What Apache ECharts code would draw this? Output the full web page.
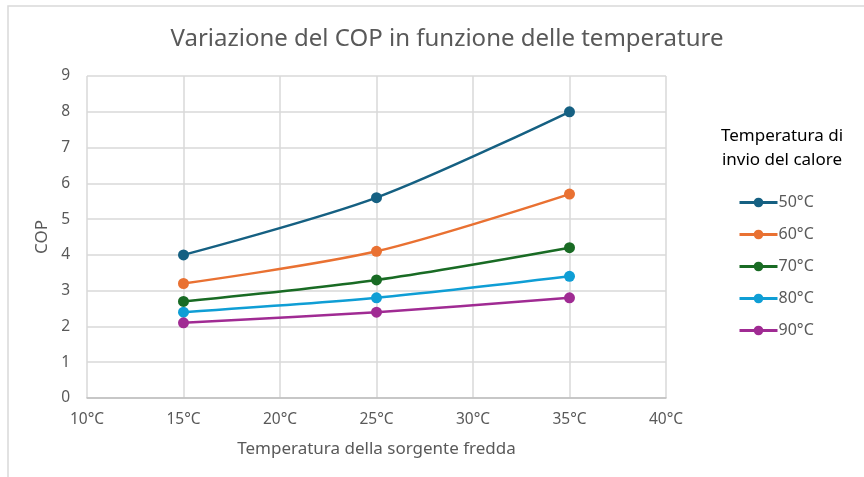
<!DOCTYPE html>
<html lang="it">
<head>
    <meta charset="UTF-8">
    <title>COP</title>
    <script src="https://cdn.jsdelivr.net/npm/echarts@6/dist/echarts.min.js"></script>
    <style>
        body { margin: 0; background: #fff; }
        #main { width: 864px; height: 477px; }
    </style>
</head>
<body>
    <div id="main"></div>
    <script>
        // dati
        var tempFredda = [15, 25, 35];
        var serieNomi = ['50°C', '60°C', '70°C', '80°C', '90°C'];
        var cop50 = [4.0, 5.6, 8.0];
        var cop60 = [3.2, 4.1, 5.7];
        var cop70 = [2.7, 3.3, 4.2];
        var cop80 = [2.4, 2.8, 3.4];
        var cop90 = [2.1, 2.4, 2.8];
        var valori = [cop50, cop60, cop70, cop80, cop90];
        var colori = ['#156082', '#E97132', '#196B24', '#0F9ED5', '#A02B93'];

        var font = 'Noto Sans';
        var grigio = '#595959';

        var myChart = echarts.init(document.getElementById('main'));

        var series = [];
        for (var i = 0; i < serieNomi.length; i++) {
            var punti = [];
            for (var j = 0; j < tempFredda.length; j++) {
                punti.push([tempFredda[j], valori[i][j]]);
            }
            series.push({
                name: serieNomi[i],
                type: 'line',
                smooth: 0.3,
                symbol: 'circle',
                symbolSize: 11,
                lineStyle: { width: 2.5, color: colori[i] },
                itemStyle: { color: colori[i] },
                data: punti
            });
        }

        var option = {
            animation: false,
            textStyle: { fontFamily: font },
            graphic: [{
                type: 'rect',
                shape: { x: 8, y: 6, width: 900, height: 500 },
                style: { fill: 'none', stroke: '#d9d9d9', lineWidth: 1.5 },
                silent: true
            }],
            title: [{
                text: 'Variazione del COP in funzione delle temperature',
                left: 442, top: 22, textAlign: 'center',
                textStyle: { fontFamily: font, fontSize: 24, fontWeight: 'normal', color: grigio }
            }, {
                text: 'Temperatura di\ninvio del calore',
                left: 777, top: 119, textAlign: 'center',
                textStyle: { fontFamily: font, fontSize: 17, fontWeight: 'normal', color: '#000', lineHeight: 24 }
            }],
            legend: {
                orient: 'vertical',
                left: 733, top: 188,
                itemWidth: 38, itemHeight: 12,
                itemGap: 13,
                itemStyle: { borderWidth: 0 },
                lineStyle: { width: 3 },
                textStyle: { fontFamily: font, fontSize: 16, color: grigio, padding: [0, 0, 0, -4], lineHeight: 19 },
                data: serieNomi
            },
            grid: { left: 87, right: 198, top: 76, bottom: 79 },
            xAxis: {
                type: 'value', min: 10, max: 40, interval: 5,
                name: 'Temperatura della sorgente fredda',
                nameLocation: 'middle', nameGap: 43,
                nameTextStyle: { fontSize: 17, color: grigio },
                axisLine: { lineStyle: { color: '#bfbfbf', width: 1.5 } },
                axisTick: { show: false },
                axisLabel: { fontSize: 15.5, color: grigio, margin: 14, formatter: '{value}°C' },
                splitLine: { lineStyle: { color: '#d9d9d9', width: 1.5 } }
            },
            yAxis: {
                type: 'value', min: 0, max: 9, interval: 1,
                name: 'COP',
                nameLocation: 'middle', nameGap: 33,
                nameTextStyle: { fontSize: 17, color: grigio },
                axisLine: { show: false },
                axisTick: { show: false },
                axisLabel: { fontSize: 15.5, color: grigio, margin: 17 },
                splitLine: { lineStyle: { color: '#d9d9d9', width: 1.5 } }
            },
            series: series
        };

        myChart.setOption(option);
    </script>
</body>
</html>
